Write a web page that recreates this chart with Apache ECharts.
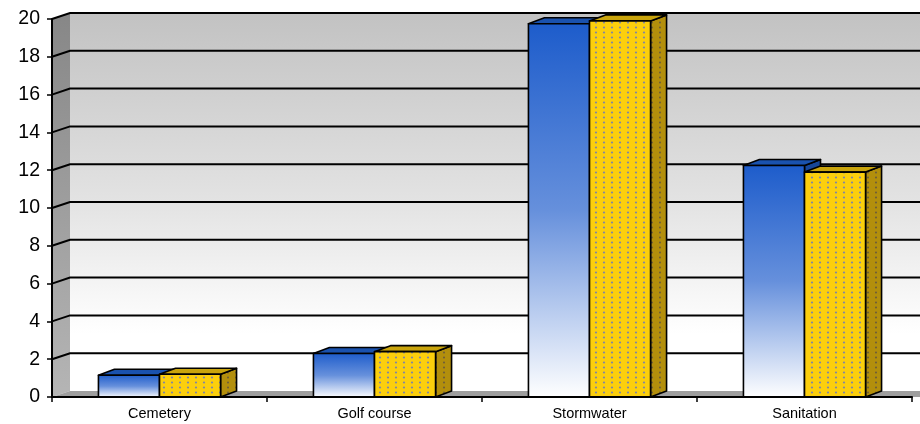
<!DOCTYPE html>
<html>
<head>
<meta charset="utf-8">
<script src="https://cdn.jsdelivr.net/npm/echarts@6/dist/echarts.min.js"></script>
<style>
  html, body { margin: 0; padding: 0; background: #ffffff; }
  #chart { width: 920px; height: 424px; }
</style>
</head>
<body>
<div id="chart"></div>
<script>
// Categories and the two measured series
const categories = ['Cemetery', 'Golf course', 'Stormwater', 'Sanitation'];
const blueValues = [1.15, 2.3, 19.75, 12.25];
const goldValues = [1.2, 2.4, 19.9, 11.9];
const yMin = 0, yMax = 20, yStep = 2;

// Pseudo-3D depth offsets (pixels)
const WALL_DX = 18, WALL_DY = -6;
const BAR_DX = 16, BAR_DY = -6;
const BAR_FRACTION = 0.284;

function dotPattern(bg, dot, w, h, r) {
  const c = document.createElement('canvas');
  c.width = w; c.height = h;
  const g = c.getContext('2d');
  g.fillStyle = bg;
  g.fillRect(0, 0, w, h);
  g.fillStyle = dot;
  g.beginPath();
  g.arc(w / 2, h / 2, r, 0, Math.PI * 2);
  g.fill();
  return { image: c, repeat: 'repeat' };
}

const goldFront = dotPattern('#fccf0c', '#7f86a4', 8, 5, 1.1);
const goldSide = dotPattern('#b38f0c', '#6a5c3c', 8, 5, 1.0);
const goldTop = '#c9a40c';

const blueFront = {
  type: 'linear', x: 0, y: 0, x2: 0, y2: 1,
  colorStops: [
    { offset: 0, color: '#1d5ccb' },
    { offset: 0.5, color: '#6690dc' },
    { offset: 1, color: '#ffffff' }
  ]
};
const blueTop = '#1a52ae';
const blueSide = '#17479a';

const outline = { stroke: '#000000', lineWidth: 1.6, lineJoin: 'round' };

function renderWalls(params, api) {
  const cs = params.coordSys;
  const x = cs.x, y = cs.y, w = cs.width, h = cs.height;
  const children = [];
  // back wall
  children.push({
    type: 'rect',
    shape: { x: x + WALL_DX, y: y + WALL_DY, width: w + 20, height: h },
    style: {
      fill: {
        type: 'linear', x: 0, y: 0, x2: 0, y2: 1,
        colorStops: [
          { offset: 0, color: '#c2c2c2' },
          { offset: 0.5, color: '#e3e3e3' },
          { offset: 0.85, color: '#ffffff' },
          { offset: 1, color: '#ffffff' }
        ]
      }
    }
  });
  // side wall
  children.push({
    type: 'polygon',
    shape: { points: [[x, y], [x + WALL_DX, y + WALL_DY], [x + WALL_DX, y + h + WALL_DY], [x, y + h]] },
    style: {
      fill: {
        type: 'linear', x: 0, y: 0, x2: 0, y2: 1,
        colorStops: [
          { offset: 0, color: '#878787' },
          { offset: 1, color: '#b5b5b5' }
        ]
      }
    }
  });
  // floor
  children.push({
    type: 'polygon',
    shape: { points: [[x, y + h], [x + WALL_DX, y + h + WALL_DY], [x + w + WALL_DX + 20, y + h + WALL_DY], [x + w + 20, y + h]] },
    style: { fill: '#9e9e9e' }
  });
  // gridlines across side wall and back wall
  for (let v = yMin + yStep; v <= yMax + 1e-9; v += yStep) {
    const yp = api.coord([0, v])[1];
    children.push({
      type: 'polyline',
      shape: { points: [[x, yp], [x + WALL_DX, yp + WALL_DY], [x + w + WALL_DX + 20, yp + WALL_DY]] },
      style: { stroke: '#000000', lineWidth: 2, fill: null }
    });
  }
  return { type: 'group', children: children };
}

function barRenderer(side, frontFill, topFill, sideFill) {
  return function (params, api) {
    const cat = api.value(0);
    const v = api.value(1);
    const top = api.coord([cat, v]);
    const base = api.coord([cat, 0]);
    const bw = api.size([1, 0])[0] * BAR_FRACTION;
    const x0 = side < 0 ? top[0] - bw : top[0];
    const x1 = x0 + bw;
    const yT = top[1], yB = base[1];
    return {
      type: 'group',
      children: [
        {
          type: 'polygon',
          shape: { points: [[x1, yB], [x1 + BAR_DX, yB + BAR_DY], [x1 + BAR_DX, yT + BAR_DY], [x1, yT]] },
          style: Object.assign({ fill: sideFill }, outline)
        },
        {
          type: 'polygon',
          shape: { points: [[x0, yT], [x0 + BAR_DX, yT + BAR_DY], [x1 + BAR_DX, yT + BAR_DY], [x1, yT]] },
          style: Object.assign({ fill: topFill }, outline)
        },
        {
          type: 'rect',
          shape: { x: x0, y: yT, width: bw, height: yB - yT },
          style: Object.assign({ fill: frontFill }, outline)
        }
      ]
    };
  };
}

const chart = echarts.init(document.getElementById('chart'), null, { renderer: 'canvas' });
chart.setOption({
  animation: false,
  backgroundColor: '#ffffff',
  grid: { left: 52, right: 8, top: 19, bottom: 27 },
  xAxis: {
    type: 'category',
    data: categories,
    z: 10,
    axisLine: { show: true, lineStyle: { color: '#000000', width: 2 } },
    axisTick: { show: true, length: 5, lineStyle: { color: '#000000', width: 1.5 } },
    axisLabel: { color: '#000000', fontSize: 14.5, fontFamily: 'Arial, "Liberation Sans", sans-serif', margin: 9 },
    splitLine: { show: false }
  },
  yAxis: {
    type: 'value',
    min: yMin, max: yMax, interval: yStep,
    z: 10,
    axisLine: { show: true, lineStyle: { color: '#000000', width: 2 } },
    axisTick: { show: true, length: 5, lineStyle: { color: '#000000', width: 1.5 } },
    axisLabel: { color: '#000000', fontSize: 19.5, fontFamily: 'Arial, "Liberation Sans", sans-serif', margin: 12 },
    splitLine: { show: false }
  },
  series: [
    {
      type: 'custom',
      z: 1,
      silent: true,
      data: [[0, 0]],
      renderItem: renderWalls
    },
    {
      type: 'custom',
      z: 2,
      data: blueValues.map((v, i) => [i, v]),
      renderItem: barRenderer(-1, blueFront, blueTop, blueSide)
    },
    {
      type: 'custom',
      z: 2,
      data: goldValues.map((v, i) => [i, v]),
      renderItem: barRenderer(1, goldFront, goldTop, goldSide)
    }
  ]
});
</script>
</body>
</html>
